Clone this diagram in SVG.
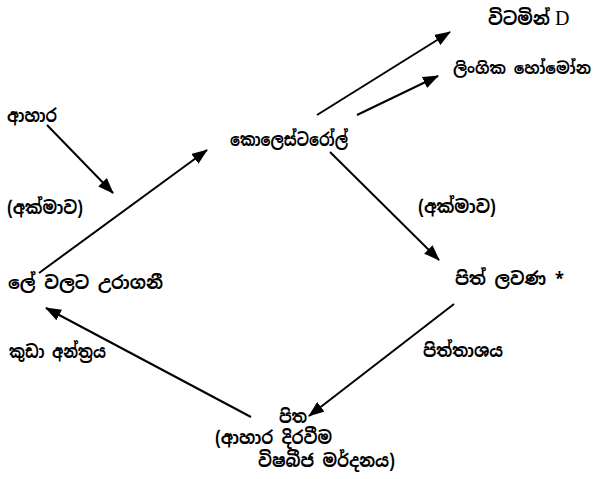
<svg xmlns="http://www.w3.org/2000/svg" width="602" height="479" viewBox="0 0 602 479">
  <defs>
    <marker id="ah" markerUnits="userSpaceOnUse" markerWidth="16" markerHeight="12" refX="15" refY="6" orient="auto">
      <path d="M0,0 L16,6 L0,12 Z" fill="#000"/>
    </marker>
    <style>
      .t { font-family: "Noto Sans Sinhala", "Noto Serif Sinhala", "Iskoola Pota", "LKLUG", "Noto Sans", "DejaVu Sans", sans-serif; font-size: 18px; font-weight: bold; fill: #000; }
      .sm { font-size: 16px; }
      .lat { font-family: "Liberation Serif", "Times New Roman", serif; font-size: 20px; font-weight: normal; fill: #000; }
      .c line { stroke: #000; stroke-width: 2; marker-end: url(#ah); }
    </style>
  </defs>
  <rect width="602" height="479" fill="#fff"/>

  <g id="connectors" class="c">
    <line x1="317" y1="115" x2="450" y2="32"/>
    <line x1="357" y1="115" x2="438" y2="76"/>
    <line x1="47" y1="125" x2="113" y2="193"/>
    <line x1="39" y1="273" x2="207" y2="150"/>
    <line x1="330" y1="152" x2="439" y2="260"/>
    <line x1="454" y1="304" x2="309" y2="416"/>
    <line x1="251" y1="417" x2="46" y2="308"/>
  </g>

  <g id="vitamin-d">
    <text class="t" x="488" y="25" textLength="62" lengthAdjust="spacingAndGlyphs">විටමින්</text>
    <text class="lat" x="555" y="25">D</text>
  </g>
  <g id="sex-hormones"><text class="t sm" x="453" y="74" textLength="138" lengthAdjust="spacingAndGlyphs">ලිංගික හෝමෝන</text></g>
  <g id="food"><text class="t" x="7" y="122" textLength="50" lengthAdjust="spacingAndGlyphs">ආහාර</text></g>
  <g id="cholesterol"><text class="t" x="230" y="146" textLength="118" lengthAdjust="spacingAndGlyphs">කොලෙස්ටරෝල්</text></g>
  <g id="liver-left"><text class="t" x="7" y="214" textLength="76" lengthAdjust="spacingAndGlyphs">(අක්මාව)</text></g>
  <g id="liver-right"><text class="t" x="418" y="213" textLength="78" lengthAdjust="spacingAndGlyphs">(අක්මාව)</text></g>
  <g id="absorbed-blood"><text class="t" x="8" y="289" textLength="155" lengthAdjust="spacingAndGlyphs">ලේ වලට උරාගනී</text></g>
  <g id="bile-salts"><text class="t" x="455" y="285" textLength="109" lengthAdjust="spacingAndGlyphs">පිත් ලවණ *</text></g>
  <g id="small-intestine"><text class="t" x="9" y="358" textLength="97" lengthAdjust="spacingAndGlyphs">කුඩා අන්ත්‍රය</text></g>
  <g id="gallbladder"><text class="t" x="423" y="357" textLength="80" lengthAdjust="spacingAndGlyphs">පිත්තාශය</text></g>
  <g id="bile">
    <text class="t" x="279" y="423" textLength="28" lengthAdjust="spacingAndGlyphs">පිත</text>
    <text class="t" x="215" y="444" textLength="117" lengthAdjust="spacingAndGlyphs">(ආහාර දිරවීම</text>
    <text class="t" x="258" y="467" textLength="137" lengthAdjust="spacingAndGlyphs">විෂබීජ මර්දනය)</text>
  </g>
</svg>
